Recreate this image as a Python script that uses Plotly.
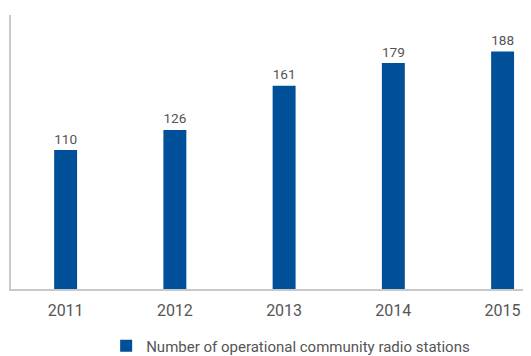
import plotly.graph_objects as go

years = ["2011", "2012", "2013", "2014", "2015"]
stations = [110, 126, 161, 179, 188]
series_name = "Number of operational community radio stations"

FONT = "Roboto"
GRAY = "#555555"
BLUE = "#004f99"

fig = go.Figure()
fig.add_trace(go.Bar(
    x=years, y=stations, name=series_name,
    marker=dict(color=BLUE, line=dict(width=0)),
    width=0.21,
    text=[str(v) for v in stations], textposition="outside",
    textfont=dict(family=FONT, size=16, color=GRAY),
    cliponaxis=False,
))

# page body has an 8px default margin: figure is sized so the plot lands at the reference position
fig.update_layout(
    width=523, height=348,
    margin=dict(l=3, r=0, t=7, b=67, autoexpand=False),
    paper_bgcolor="white", plot_bgcolor="white",
    showlegend=True,
    legend=dict(orientation="h", x=0.183, xanchor="left", y=-0.208, yanchor="middle",
                font=dict(family=FONT, size=15, color=GRAY), itemwidth=30,
                bgcolor="rgba(0,0,0,0)"),
    font=dict(family=FONT, color=GRAY),
)
fig.update_xaxes(range=[-0.5, 4.26], showline=True, linecolor="#c8c8c8", linewidth=2,
                 ticks="", tickfont=dict(family=FONT, size=16, color=GRAY), showgrid=False,
                 ticklabelstandoff=6)
fig.update_yaxes(range=[0, 217], showline=True, linecolor="#c8c8c8", linewidth=2,
                 showticklabels=False, showgrid=False, zeroline=False, ticks="")

fig.write_html("out.html")
